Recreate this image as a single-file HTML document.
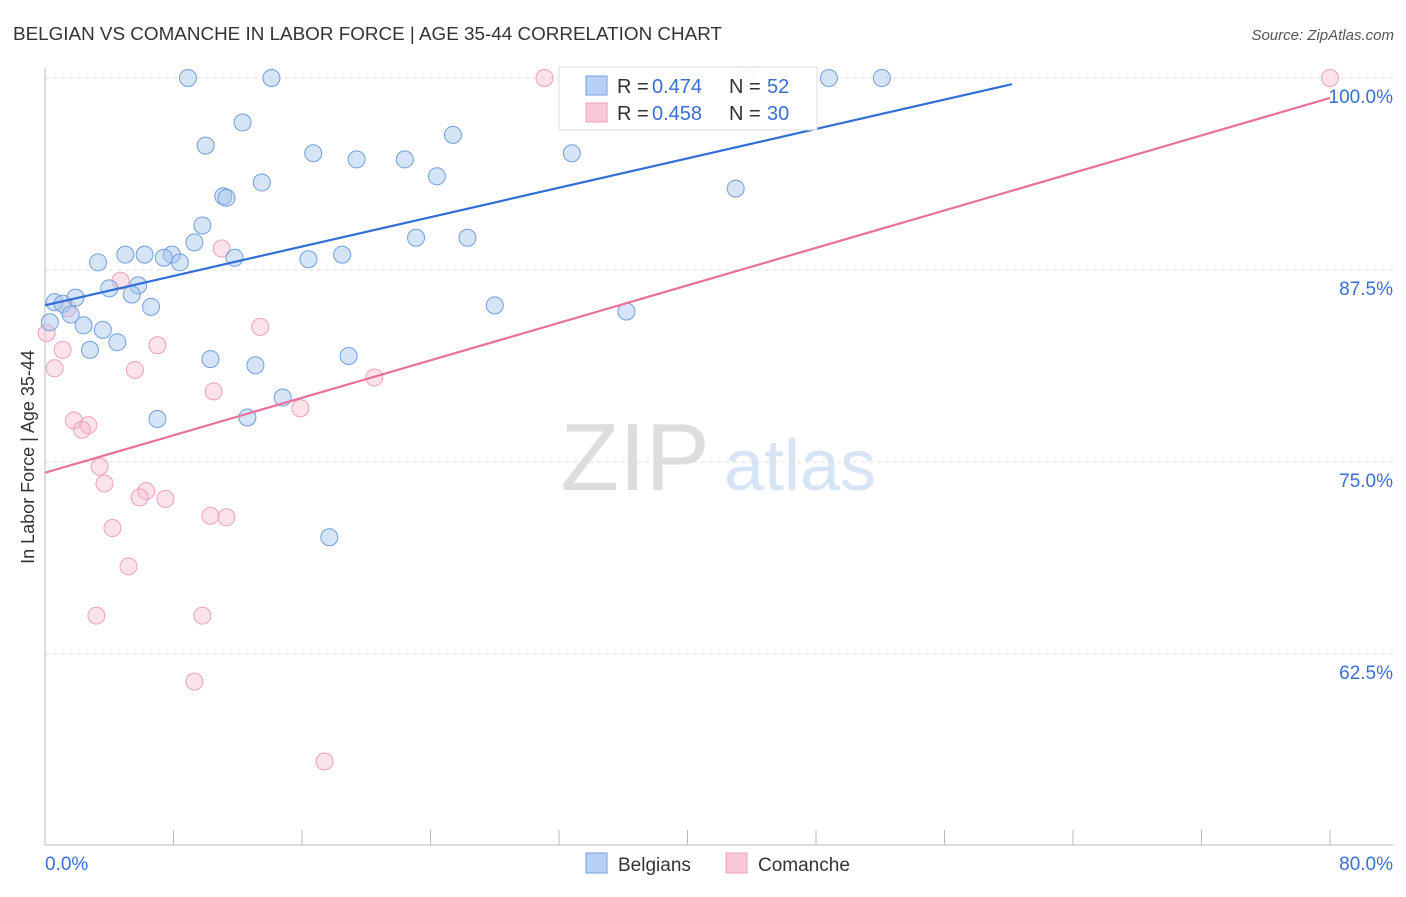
<!DOCTYPE html>
<html><head><meta charset="utf-8"><style>
body{margin:0;background:#fff;font-family:"Liberation Sans",sans-serif;}
svg text{font-family:"Liberation Sans",sans-serif;}
</style></head><body>
<svg id="chart" width="1406" height="892" xmlns="http://www.w3.org/2000/svg">
<text x="13" y="40" font-size="18" fill="#333" textLength="709" lengthAdjust="spacingAndGlyphs">BELGIAN VS COMANCHE IN LABOR FORCE | AGE 35-44 CORRELATION CHART</text>
<text x="1394" y="40" font-size="15" fill="#555" text-anchor="end" font-style="italic">Source: ZipAtlas.com</text>
<g><text x="635" y="490" font-size="96" fill="#ddd" font-family="Liberation Serif" text-anchor="middle">ZIP</text><text x="800" y="490" font-size="72" fill="#d6e4f5" text-anchor="middle">atlas</text></g>
<g id="grid"></g><g id="axes"></g><g id="marks"></g>
<g>
<rect x="559" y="67" width="258" height="63" fill="#fff" fill-opacity="0.9" stroke="#ddd"/>
<rect x="586" y="76" width="21" height="19" fill="#b8d0f5" stroke="#6f9fe0"/>
<text x="617" y="93" font-size="20" fill="#333">R =</text><text x="652" y="93" font-size="20" fill="#3a6fd0">0.474</text>
<text x="729" y="93" font-size="20" fill="#333">N =</text><text x="767" y="93" font-size="20" fill="#3a6fd0">52</text>
<rect x="586" y="103" width="21" height="19" fill="#f9c8d6" stroke="#f0a0b8"/>
<text x="617" y="120" font-size="20" fill="#333">R =</text><text x="652" y="120" font-size="20" fill="#3a6fd0">0.458</text>
<text x="729" y="120" font-size="20" fill="#333">N =</text><text x="767" y="120" font-size="20" fill="#3a6fd0">30</text>
</g>
<g>
<rect x="586" y="853" width="21" height="20" fill="#b8d0f5" stroke="#6f9fe0"/>
<text x="618" y="871" font-size="19" fill="#333">Belgians</text>
<rect x="726" y="853" width="21" height="20" fill="#f9c8d6" stroke="#f0a0b8"/>
<text x="758" y="871" font-size="19" fill="#333">Comanche</text>
</g>
<text transform="translate(34,457) rotate(-90)" font-size="18" fill="#333" text-anchor="middle">In Labor Force | Age 35-44</text>
</svg>
<script>
const yTicks=[100,87.5,75,62.5];
const yTickLabels=["100.0%","87.5%","75.0%","62.5%"];
const xTicks=[0,8,16,24,32,40,48,56,64,72,80];
const belgX=[8.9,14.1,48.8,52.1,43.7,12.3,10.0,25.4,16.7,19.4,22.4,32.8,13.5,24.4,43.0,11.1,11.3,9.8,9.3,23.1,26.3,5.0,6.2,7.9,7.4,8.4,3.3,11.8,16.4,18.5,5.8,4.0,5.4,1.9,0.6,1.1,6.6,28.0,36.2,1.6,2.4,0.3,3.6,4.5,2.8,10.3,18.9,13.1,14.8,7.0,12.6,17.7];
const belgY=[100,100,100,100,100,97.1,95.6,96.3,95.1,94.7,94.7,95.1,93.2,93.6,92.8,92.3,92.2,90.4,89.3,89.6,89.6,88.5,88.5,88.5,88.3,88.0,88.0,88.3,88.2,88.5,86.5,86.3,85.9,85.7,85.4,85.3,85.1,85.2,84.8,84.6,83.9,84.1,83.6,82.8,82.3,81.7,81.9,81.3,79.2,77.8,77.9,70.1];
const comX=[31.1,80.0,11.0,4.7,1.4,0.1,13.4,1.1,7.0,0.6,5.6,20.5,10.5,15.9,1.8,2.7,2.3,3.4,3.7,6.3,5.9,7.5,10.3,11.3,4.2,5.2,3.2,9.8,9.3,17.4];
const comY=[100,100,88.9,86.8,85.0,83.4,83.8,82.3,82.6,81.1,81.0,80.5,79.6,78.5,77.7,77.4,77.1,74.7,73.6,73.1,72.7,72.6,71.5,71.4,70.7,68.2,65.0,65.0,60.7,55.5];
const belgTrend=[0,85.2,60.2,99.6];
const comTrend=[0,74.3,80,98.7];
const NS="http://www.w3.org/2000/svg";
const X=v=>45+v*1285/80, Y=v=>78+(100-v)*15.36;
function mk(p,t,a){const e=document.createElementNS(NS,t);for(const k in a)e.setAttribute(k,a[k]);p.appendChild(e);return e;}
const grid=document.getElementById('grid'),axes=document.getElementById('axes'),marks=document.getElementById('marks');
yTicks.forEach((t,i)=>{const l=mk(grid,'line',{x1:45,x2:1393,y1:Y(t),y2:Y(t),stroke:'#ddd','stroke-dasharray':'4,4'});


const tx=mk(axes,'text',{x:1393,y:Y(t)+25,'font-size':19,fill:'#3a6fd0','text-anchor':'end'});tx.textContent=yTickLabels[i];

});
const ax=mk(axes,'path',{d:'M45,68V845H1393',stroke:'#bbb',fill:'none'});


xTicks.forEach(t=>{const l=mk(axes,'line',{x1:X(t),x2:X(t),y1:830,y2:845,stroke:'#bbb'});

});
[["0.0%",45,'start'],["80.0%",1393,'end']].forEach(a=>{const t=mk(axes,'text',{x:a[1],y:870,'font-size':19,fill:'#3a6fd0','text-anchor':a[2]});t.textContent=a[0];

});
function pts(xs,ys,fill,stroke,name){xs.forEach((x,i)=>{const c=mk(marks,'circle',{cx:X(x),cy:Y(ys[i]),r:8.5,fill:fill,stroke:stroke,'stroke-width':1});

});}
pts(comX,comY,'rgba(248,185,205,0.4)','#f0a0b8','comanche-point');
pts(belgX,belgY,'rgba(165,195,240,0.45)','#6f9fe0','belgian-point');
function trend(t,c,name){const l=mk(marks,'line',{x1:X(t[0]),y1:Y(t[1]),x2:X(t[2]),y2:Y(t[3]),stroke:c,'stroke-width':2.2});

}
trend(belgTrend,'#2f6fd6','belgian-trendline');
trend(comTrend,'#e8709a','comanche-trendline');
</script>
</body></html>
